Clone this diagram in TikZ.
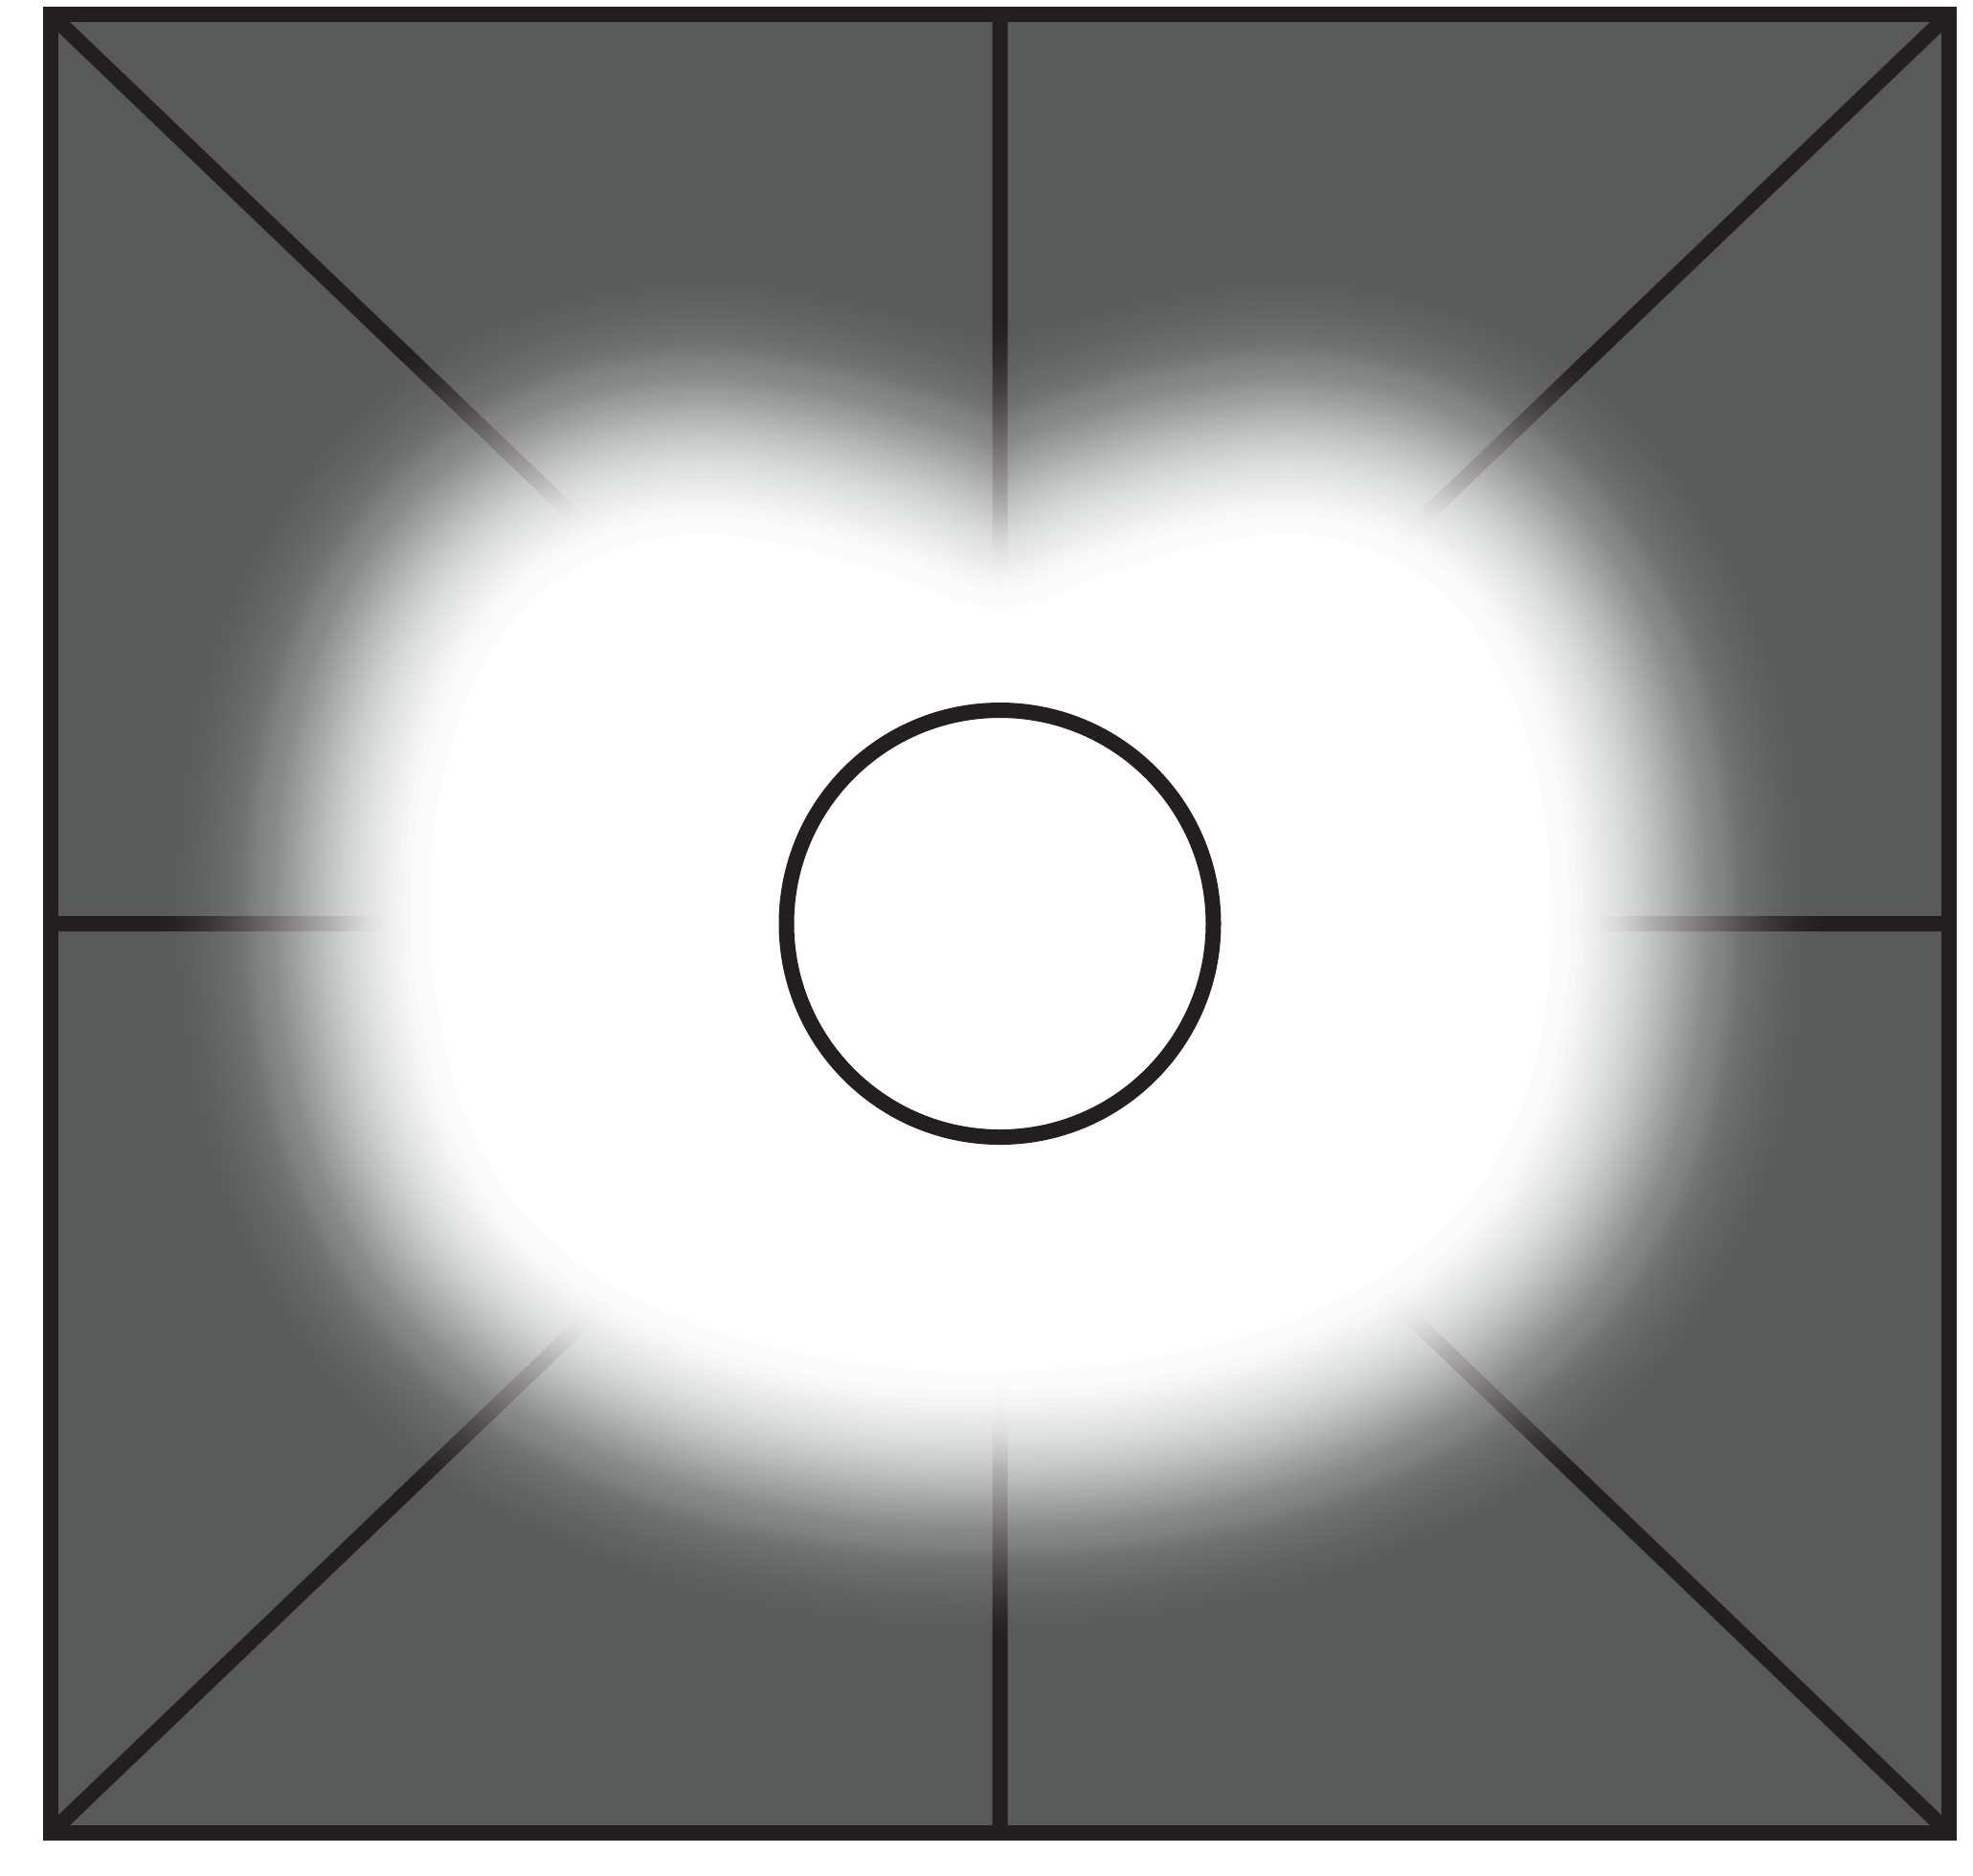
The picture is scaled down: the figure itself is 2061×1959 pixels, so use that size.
\documentclass[tikz,border=0pt]{standalone}
\usepackage{tikz}
\definecolor{panelgray}{RGB}{88,90,89}
\definecolor{inkblack}{RGB}{35,31,32}

\begin{document}
\begin{tikzpicture}[x=0.01cm,y=-0.01cm,
  frameline/.style={draw=inkblack,line width=0.16cm},
  blobshape/.style={shift={(ctr)},insert path={plot[smooth cycle,tension=0.7] coordinates {
    (0,-330) (-120,-368) (-235,-398) (-340,-405) (-445,-370) (-525,-295)
    (-575,-180) (-595,-40) (-585,100) (-545,230) (-470,330) (-350,405)
    (-180,455) (0,468) (180,450) (340,400) (455,325) (530,225)
    (568,100) (575,-40) (555,-180) (505,-295) (430,-370) (330,-405)
    (225,-398) (115,-368)}}}]
\useasboundingbox (0,0) rectangle (2061,1959);

% corners and midpoints of the panel
\coordinate (tl) at (53,15);
\coordinate (tr) at (2036,15);
\coordinate (bl) at (53,1915);
\coordinate (br) at (2036,1915);
\coordinate (tm) at (1044.5,15);
\coordinate (bm) at (1044.5,1915);
\coordinate (lm) at (53,965);
\coordinate (rm) at (2036,965);
\coordinate (ctr) at (1044.5,965);

% dark panel with its dividing lines
\fill[panelgray] (tl) rectangle (br);
\draw[frameline] (tl) -- (br) (tr) -- (bl) (tm) -- (bm) (lm) -- (rm);
\draw[frameline,line join=miter] (tl) rectangle (br);

% soft white glow: wide faint strokes round a white core
\foreach \k in {1,...,95}{
  \pgfmathsetmacro\w{0.02*300*acos(2*\k/96-1)/180}
  \pgfmathsetmacro\op{1/(97-\k)}
  \draw[white,opacity=\op,line width=\w cm,line join=round,blobshape];
}
\fill[white,blobshape];

% central hole
\draw[frameline,fill=white] (ctr) circle[radius=223];
\end{tikzpicture}
\end{document}
